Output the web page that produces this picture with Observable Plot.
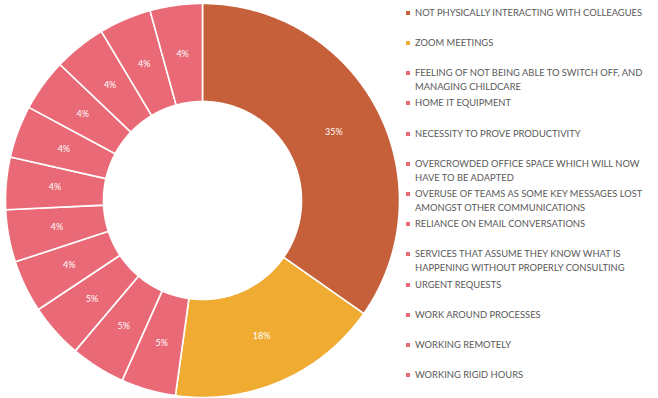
<!DOCTYPE html>
<html>
<head>
<meta charset="utf-8">
<script src="https://cdn.jsdelivr.net/npm/d3@7"></script>
<script src="https://cdn.jsdelivr.net/npm/@observablehq/plot@0.6"></script>
<style>
  html, body { margin: 0; padding: 0; background: #fff; }
  #wrap { position: relative; width: 658px; height: 398px; overflow: hidden; }
  #chart { position: absolute; left: 0; top: 0; }
  #legend { position: absolute; left: 0; top: 0; width: 658px; height: 398px; pointer-events: none; }
  .item { position: absolute; left: 406px; width: 245px; font-family: Lato, "Open Sans", sans-serif; line-height: 14px; color: #595959; }
  .sw { position: absolute; left: 0; top: 5px; width: 4px; height: 4px; }
  .txt { position: absolute; left: 9px; white-space: nowrap; }
</style>
</head>
<body>
<div id="wrap">
  <div id="chart"></div>
  <div id="legend"></div>
</div>
<script>
const categories = [
  "NOT PHYSICALLY INTERACTING WITH COLLEAGUES",
  "ZOOM MEETINGS",
  "FEELING OF NOT BEING ABLE TO SWITCH OFF, AND MANAGING CHILDCARE",
  "HOME IT EQUIPMENT",
  "NECESSITY TO PROVE PRODUCTIVITY",
  "OVERCROWDED OFFICE SPACE WHICH WILL NOW HAVE TO BE ADAPTED",
  "OVERUSE OF TEAMS AS SOME KEY MESSAGES LOST AMONGST OTHER COMMUNICATIONS",
  "RELIANCE ON EMAIL CONVERSATIONS",
  "SERVICES THAT ASSUME THEY KNOW WHAT IS HAPPENING WITHOUT PROPERLY CONSULTING",
  "URGENT REQUESTS",
  "WORK AROUND PROCESSES",
  "WORKING REMOTELY",
  "WORKING RIGID HOURS"
];
// legend line breaks as shown in the reference
const legendLines = [
  ["NOT PHYSICALLY INTERACTING WITH COLLEAGUES"],
  ["ZOOM MEETINGS"],
  ["FEELING OF NOT BEING ABLE TO SWITCH OFF, AND", "MANAGING CHILDCARE"],
  ["HOME IT EQUIPMENT"],
  ["NECESSITY TO PROVE PRODUCTIVITY"],
  ["OVERCROWDED OFFICE SPACE WHICH WILL NOW", "HAVE TO BE ADAPTED"],
  ["OVERUSE OF TEAMS AS SOME KEY MESSAGES LOST", "AMONGST OTHER COMMUNICATIONS"],
  ["RELIANCE ON EMAIL CONVERSATIONS"],
  ["SERVICES THAT ASSUME THEY KNOW WHAT IS", "HAPPENING WITHOUT PROPERLY CONSULTING"],
  ["URGENT REQUESTS"],
  ["WORK AROUND PROCESSES"],
  ["WORKING REMOTELY"],
  ["WORKING RIGID HOURS"]
];
const values = [34.8, 17.5, 4.5, 4.5, 4.5, 4.3, 4.3, 4.3, 4.3, 4.3, 4.3, 4.3, 4.3];
const colors = ["#C5603A", "#F0AB33", "#E96A76", "#E96A76", "#E96A76", "#E96A76", "#E96A76",
                "#E96A76", "#E96A76", "#E96A76", "#E96A76", "#E96A76", "#E96A76"];

const data = categories.map((c, i) => ({cat: c, value: values[i], color: colors[i]}));
const R_OUT = 197, R_IN = 99, R_LAB = 148;

const arcs = d3.pie().sort(null).value(d => d.value)(data);

// polygon outline of each slice, derived from the pie angles
const pts = [];
arcs.forEach(a => {
  const n = Math.max(2, Math.ceil((a.endAngle - a.startAngle) / (Math.PI / 360)));
  for (let k = 0; k <= n; k++) {
    const t = a.startAngle + (a.endAngle - a.startAngle) * k / n;
    pts.push({cat: a.data.cat, color: a.data.color, x: R_OUT * Math.sin(t), y: R_OUT * Math.cos(t)});
  }
  for (let k = n; k >= 0; k--) {
    const t = a.startAngle + (a.endAngle - a.startAngle) * k / n;
    pts.push({cat: a.data.cat, color: a.data.color, x: R_IN * Math.sin(t), y: R_IN * Math.cos(t)});
  }
});

const labels = arcs.map(a => {
  const m = (a.startAngle + a.endAngle) / 2;
  return {x: R_LAB * Math.sin(m), y: R_LAB * Math.cos(m), text: Math.round(a.data.value) + "%"};
});

const chart = Plot.plot({
  width: 404,
  height: 398,
  margin: 0,
  x: {domain: [-202, 202], axis: null},
  y: {domain: [-198, 200], axis: null},
  color: {type: "identity"},
  marks: [
    Plot.line(pts, {x: "x", y: "y", z: "cat", fill: "color", stroke: "white", strokeWidth: 1.6, curve: "linear-closed"}),
    Plot.text(labels, {x: "x", y: "y", text: "text", fill: "white", fontSize: 9, fontFamily: "Lato, 'Open Sans', sans-serif"})
  ]
});
document.getElementById("chart").appendChild(chart);

// size the legend font so the longest first line spans ~228px as in the reference
const ctx = document.createElement("canvas").getContext("2d");
ctx.font = "100px Lato";
const wRef = ctx.measureText(legendLines[0][0]).width;
const fs = Math.min(11, 100 * 228 / wRef);

const legend = document.getElementById("legend");
legendLines.forEach((lines, i) => {
  const cy = 12.7 + 30.2 * i;
  const item = document.createElement("div");
  item.className = "item";
  item.style.fontSize = fs + "px";
  item.style.top = (cy - 7) + "px";
  const sw = document.createElement("div");
  sw.className = "sw";
  sw.style.background = colors[i];
  item.appendChild(sw);
  lines.forEach((ln, j) => {
    const t = document.createElement("div");
    t.className = "txt";
    t.style.top = (j * 14) + "px";
    t.textContent = ln;
    item.appendChild(t);
  });
  legend.appendChild(item);
});
</script>
</body>
</html>
